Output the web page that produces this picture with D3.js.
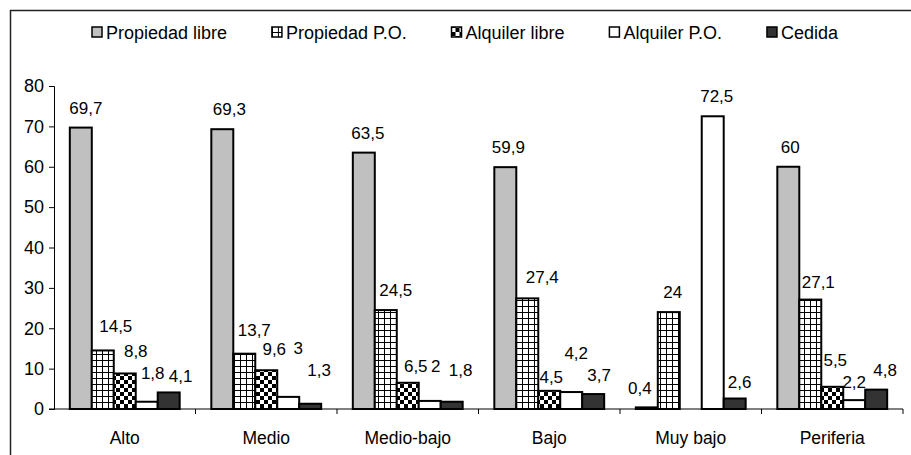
<!DOCTYPE html>
<html>
<head>
<meta charset="utf-8">
<script src="https://cdn.jsdelivr.net/npm/d3@7"></script>
<style>
body { margin: 0; background: #fff; }
text { font-family: "Liberation Sans", Arial, sans-serif; fill: #000; }
</style>
</head>
<body>
<div id="chart"></div>
<script>
// data
var categories = ["Alto", "Medio", "Medio-bajo", "Bajo", "Muy bajo", "Periferia"];
var seriesNames = ["Propiedad libre", "Propiedad P.O.", "Alquiler libre", "Alquiler P.O.", "Cedida"];
var propiedadLibre = [69.7, 69.3, 63.5, 59.9, 0.4, 60];
var propiedadPO = [14.5, 13.7, 24.5, 27.4, 24, 27.1];
var alquilerLibre = [8.8, 9.6, 6.5, 4.5, null, 5.5];
var alquilerPO = [1.8, 3, 2, 4.2, 72.5, 2.2];
var cedida = [4.1, 1.3, 1.8, 3.7, 2.6, 4.8];
var yTicks = [0, 10, 20, 30, 40, 50, 60, 70, 80];

var seriesValues = [propiedadLibre, propiedadPO, alquilerLibre, alquilerPO, cedida];

// hand-placed label nudges (px), one row per category, like the original chart
var labelDx = [
  [5, 13, 11, 6, 12],
  [7, 10, 8, 10, 9],
  [4, 10, 8, 6, 9],
  [3, 15, 2, 5, 6],
  [-7, 4, 0, 4, 5],
  [2, 8, 3, 0, 9]
];
var labelDy = [
  [0, -4, -2, -9, 4],
  [0, -4, -1, -29, -14],
  [0, 0, 3, -15, -12],
  [0, -1, 6, -19, 1],
  [1, 0, 0, 0, 3],
  [0, 2, -7, 2, 0]
];

var width = 911, height = 455;
var plot = {left: 54, right: 903, top: 86, bottom: 409};

var svg = d3.select("#chart").append("svg")
  .attr("width", width)
  .attr("height", height);

// patterns
var defs = svg.append("defs");
var grid = defs.append("pattern")
  .attr("id", "grid")
  .attr("patternUnits", "userSpaceOnUse")
  .attr("width", 6).attr("height", 6);
grid.append("rect").attr("width", 6).attr("height", 6).attr("fill", "#fff");
grid.append("path").attr("d", "M0,0.5H6M0.5,0V6").attr("stroke", "#000").attr("stroke-width", 1);

var checker = defs.append("pattern")
  .attr("id", "checker")
  .attr("patternUnits", "userSpaceOnUse")
  .attr("width", 8).attr("height", 8);
checker.append("rect").attr("width", 8).attr("height", 8).attr("fill", "#fff");
checker.append("rect").attr("width", 4).attr("height", 4).attr("fill", "#000");
checker.append("rect").attr("x", 4).attr("y", 4).attr("width", 4).attr("height", 4).attr("fill", "#000");

var fills = ["#c0c0c0", "url(#grid)", "url(#checker)", "#fff", "#333333"];

// frame
svg.append("rect")
  .attr("x", 10.5).attr("y", 10.5)
  .attr("width", 1000).attr("height", 1000)
  .attr("fill", "none")
  .attr("stroke", "#222")
  .attr("stroke-width", 1.5);

var x0 = d3.scaleBand()
  .domain(categories)
  .range([plot.left, plot.right])
  .padding(0);

var x1 = d3.scaleBand()
  .domain(seriesNames)
  .range([0, x0.bandwidth()])
  .paddingInner(0)
  .paddingOuter(0.72);

var y = d3.scaleLinear()
  .domain([0, 80])
  .range([plot.bottom, plot.top]);

// y axis
var yAxis = svg.append("g")
  .attr("transform", "translate(" + plot.left + ",0)")
  .call(d3.axisLeft(y).tickValues(yTicks).tickSize(5).tickPadding(5));
yAxis.select(".domain").attr("stroke", "#000");
yAxis.selectAll(".tick line").attr("stroke", "#000");
yAxis.selectAll("text").attr("font-size", "18px").attr("font-family", "Liberation Sans, Arial, sans-serif").attr("fill", "#000");

// bars
var flat = [];
seriesNames.forEach(function(s, si) {
  categories.forEach(function(c, ci) {
    var v = seriesValues[si][ci];
    if (v != null) flat.push({series: s, si: si, cat: c, ci: ci, value: v});
  });
});

svg.selectAll(".bar")
  .data(flat)
  .enter().append("rect")
  .attr("class", "bar")
  .attr("x", function(d) { return x0(d.cat) + x1(d.series); })
  .attr("y", function(d) { return y(d.value); })
  .attr("width", x1.bandwidth())
  .attr("height", function(d) { return y(0) - y(d.value); })
  .attr("fill", function(d) { return fills[d.si]; })
  .attr("stroke", "#000")
  .attr("stroke-width", 2);

svg.selectAll(".value")
  .data(flat)
  .enter().append("text")
  .attr("class", "value")
  .attr("x", function(d) { return x0(d.cat) + x1(d.series) + x1.bandwidth() / 2 + labelDx[d.ci][d.si]; })
  .attr("y", function(d) { return y(d.value) - 14 + labelDy[d.ci][d.si]; })
  .attr("text-anchor", "middle")
  .attr("font-size", "17px")
  .text(function(d) { return String(d.value).replace(".", ","); });

// x axis
var xAxis = svg.append("g")
  .attr("transform", "translate(0," + plot.bottom + ")");
xAxis.append("line")
  .attr("x1", plot.left - 5).attr("x2", plot.right)
  .attr("stroke", "#000");
xAxis.selectAll(".xtick")
  .data(categories)
  .enter().append("line")
  .attr("class", "xtick")
  .attr("x1", function(d) { return x0(d) + x0.bandwidth(); })
  .attr("x2", function(d) { return x0(d) + x0.bandwidth(); })
  .attr("y1", 0).attr("y2", 5)
  .attr("stroke", "#000");
xAxis.selectAll(".xlabel")
  .data(categories)
  .enter().append("text")
  .attr("class", "xlabel")
  .attr("x", function(d) { return x0(d) + x0.bandwidth() / 2; })
  .attr("y", 35)
  .attr("text-anchor", "middle")
  .attr("font-size", "17.5px")
  .text(function(d) { return d; });

// legend, spread evenly between the first box and the end of "Cedida"
var legendLeft = 92, legendRight = 838;
var legend = svg.append("g").attr("transform", "translate(" + legendLeft + ",32)");
var items = seriesNames.map(function(s, i) {
  var item = legend.append("g");
  item.append("rect")
    .attr("x", 0).attr("y", -5)
    .attr("width", 10).attr("height", 10)
    .attr("fill", fills[i])
    .attr("stroke", "#000")
    .attr("stroke-width", 1.5);
  var t = item.append("text")
    .attr("x", 14).attr("y", 6.5)
    .attr("font-size", "18px")
    .text(s);
  return {g: item, w: 14 + t.node().getComputedTextLength()};
});
var used = d3.sum(items, function(d) { return d.w; });
var gap = (legendRight - legendLeft - used) / (items.length - 1);
var lx = 0;
items.forEach(function(it) {
  it.g.attr("transform", "translate(" + lx + ",0)");
  lx += it.w + gap;
});
</script>
</body>
</html>
